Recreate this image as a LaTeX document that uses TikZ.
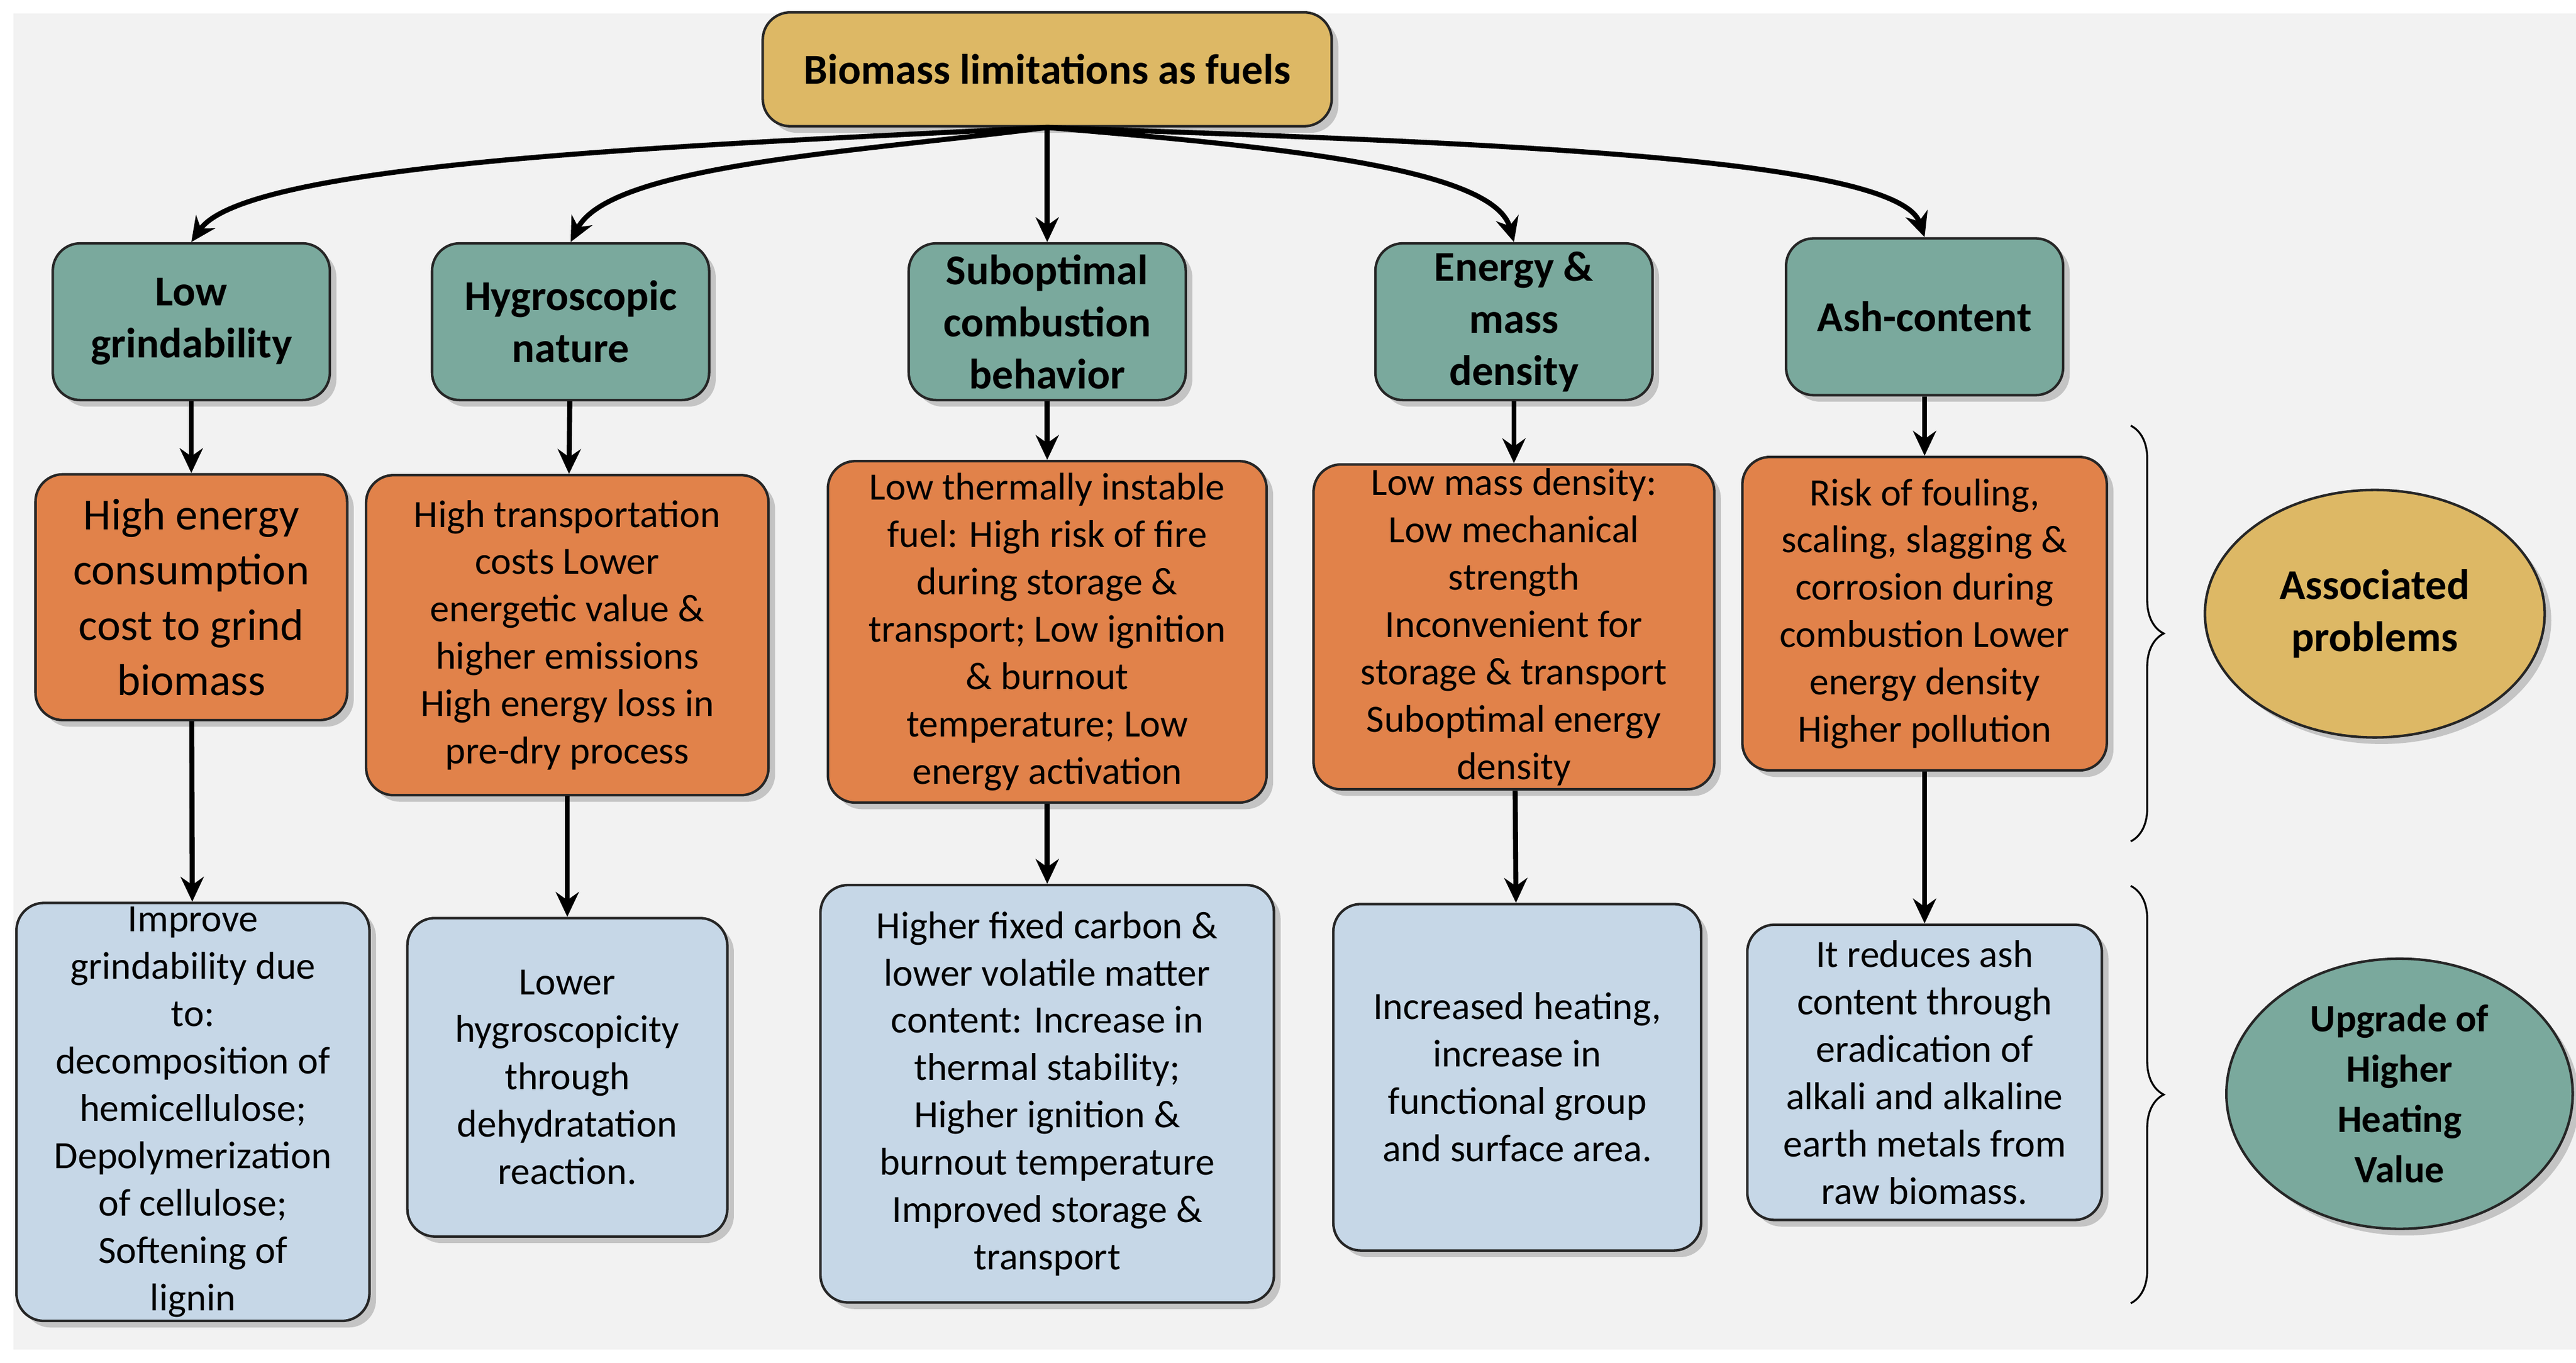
\documentclass[tikz,border=0pt]{standalone}
\usepackage{fontspec}
\setmainfont{Carlito}
\usetikzlibrary{shadows,shapes.geometric,decorations.pathreplacing,arrows.meta}
\definecolor{goldc}{HTML}{DDB865}
\definecolor{tealc}{HTML}{7AA99D}
\definecolor{orangec}{HTML}{E1824A}
\definecolor{bluec}{HTML}{C6D7E7}
\definecolor{bgc}{HTML}{F2F2F2}
\begin{document}
\begin{tikzpicture}[
    x=0.03cm, y=-0.03cm,
    box/.style={rectangle, rounded corners=0.5cm, draw=black!85, line width=1.3pt, align=center,
        drop shadow={shadow xshift=0.12cm, shadow yshift=-0.12cm, opacity=0.4}, inner sep=2pt},
    head/.style={box, fill=goldc, font=\fontsize{22}{27}\selectfont\bfseries},
    cat/.style={box, fill=tealc, font=\fontsize{22}{27}\selectfont\bfseries},
    prob/.style={box, fill=orangec, font=\fontsize{20}{24.5}\selectfont},
    gain/.style={box, fill=bluec, font=\fontsize{20}{24.5}\selectfont},
    tag/.style={ellipse, draw=black!85, line width=1.3pt, align=center, font=\fontsize{22}{27}\selectfont\bfseries,
        drop shadow={shadow xshift=0.12cm, shadow yshift=-0.12cm, opacity=0.4}},
    arr/.style={-{Stealth[length=0.45cm,width=0.42cm]}, line width=2.6pt},
    brc/.style={decorate, decoration={brace, amplitude=0.6cm}, line width=1pt}
]
    \useasboundingbox (0,0) rectangle (1562,826);
    \fill[white] (0,0) rectangle (1562,826);
    \fill[bgc] (8,8) rectangle (1562,818);

    % Title
    \node[head, minimum width=10.35cm, minimum height=2.07cm] (top) at (635,42) {Biomass limitations as fuels};

    % Limitations
    \node[cat, minimum width=5.04cm, minimum height=2.85cm] (c1) at (116,195) {Low\\grindability};
    \node[cat, minimum width=5.04cm, minimum height=2.85cm] (c2) at (346,195) {Hygroscopic\\nature};
    \node[cat, minimum width=5.04cm, minimum height=2.85cm] (c3) at (635,195) {Suboptimal\\combustion\\behavior};
    \node[cat, minimum width=5.04cm, minimum height=2.85cm] (c4) at (918,195) {Energy \&\\mass\\density};
    \node[cat, minimum width=5.04cm, minimum height=2.85cm] (c5) at (1167,192) {Ash-content};

    % Associated problems
    \node[prob, minimum width=5.67cm, minimum height=4.47cm, font=\fontsize{23}{28.5}\selectfont] (p1) at (116,362)
        {High energy\\consumption\\cost to grind\\biomass};
    \node[prob, minimum width=7.32cm, minimum height=5.82cm] (p2) at (344,385)
        {High transportation\\costs Lower\\energetic value \&\\higher emissions\\High energy loss in\\pre-dry process};
    \node[prob, minimum width=7.98cm, minimum height=6.21cm] (p3) at (635,383)
        {Low thermally instable\\fuel: High risk of fire\\during storage \&\\transport; Low ignition\\\& burnout\\temperature; Low\\energy activation};
    \node[prob, minimum width=7.29cm, minimum height=5.82cm] (p4) at (918,380)
        {Low mass density:\\Low mechanical\\strength\\Inconvenient for\\storage \& transport\\Suboptimal energy\\density};
    \node[prob, minimum width=6.63cm, minimum height=5.7cm] (p5) at (1167,372)
        {Risk of fouling,\\scaling, slagging \&\\corrosion during\\combustion Lower\\energy density\\Higher pollution};

    % Upgrades
    \node[gain, minimum width=6.42cm, minimum height=7.56cm] (g1) at (117,674)
        {Improve\\grindability due\\to:\\decomposition of\\hemicellulose;\\Depolymerization\\of cellulose;\\Softening of\\lignin};
    \node[gain, minimum width=5.82cm, minimum height=5.79cm] (g2) at (344,653)
        {Lower\\hygroscopicity\\through\\dehydratation\\reaction.};
    \node[gain, minimum width=8.25cm, minimum height=7.59cm] (g3) at (635,663)
        {Higher fixed carbon \&\\lower volatile matter\\content: Increase in\\thermal stability;\\Higher ignition \&\\burnout temperature\\Improved storage \&\\transport};
    \node[gain, minimum width=6.69cm, minimum height=6.3cm] (g4) at (920,653)
        {Increased heating,\\increase in\\functional group\\and surface area.};
    \node[gain, minimum width=6.45cm, minimum height=5.37cm] (g5) at (1167,650)
        {It reduces ash\\content through\\eradication of\\alkali and alkaline\\earth metals from\\raw biomass.};

    % Side labels
    \node[tag, fill=goldc, minimum width=6.18cm, minimum height=4.5cm] (t1) at (1440,372) {Associated\\problems};
    \node[tag, fill=tealc, minimum width=6.3cm, minimum height=4.5cm, font=\fontsize{20}{26}\selectfont\bfseries] (t2) at (1455,663)
        {Upgrade of\\Higher\\Heating\\Value};
    \coordinate (b1a) at (1292,258);
    \coordinate (b1b) at (1292,510);
    \coordinate (b2a) at (1292,537);
    \coordinate (b2b) at (1292,790);
    \draw[brc] (b1a) -- (b1b);
    \draw[brc] (b2a) -- (b2b);

    % Arrows
    \draw[arr] (top.south) .. controls (420,88) and (150,98) .. (c1.north);
    \draw[arr] (top.south) .. controls (520,92) and (370,100) .. (c2.north);
    \draw[arr] (top.south) -- (c3.north);
    \draw[arr] (top.south) .. controls (760,88) and (905,100) .. (c4.north);
    \draw[arr] (top.south) .. controls (880,86) and (1150,94) .. (c5.north);
    \foreach \i in {1,...,5} {
        \draw[arr] (c\i) -- (p\i);
        \draw[arr] (p\i) -- (g\i);
    }
\end{tikzpicture}
\end{document}
